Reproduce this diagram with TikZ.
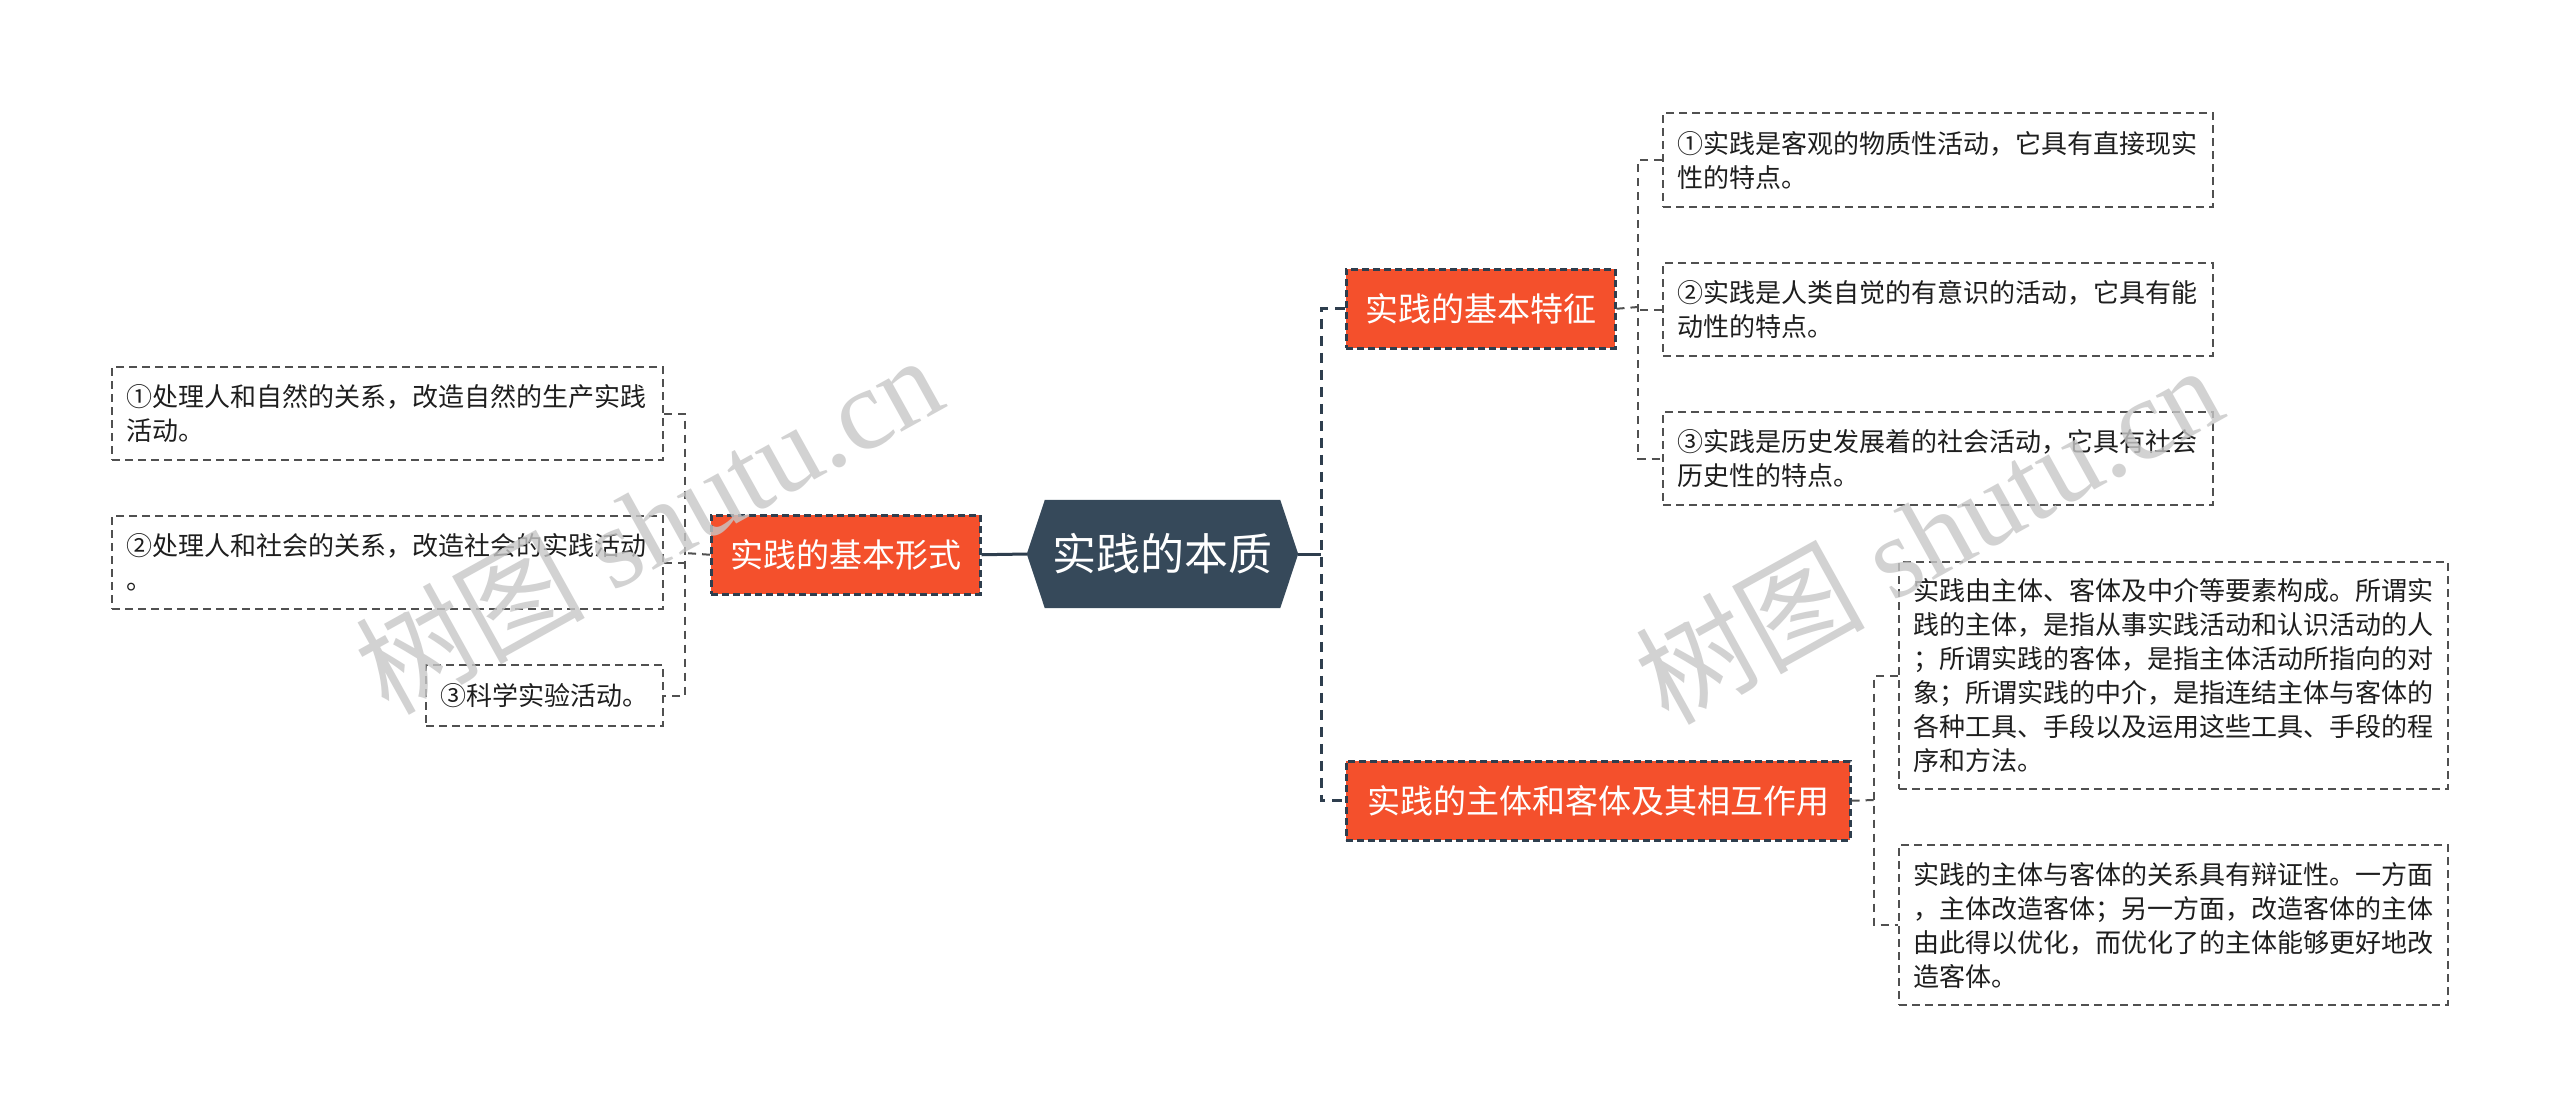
\documentclass[tikz,border=0pt]{standalone}
\usepackage{fontspec}
\setmainfont{Noto Sans CJK SC}
\newfontfamily\wmlatin{Liberation Serif}
\usetikzlibrary{backgrounds}
\definecolor{hexc}{HTML}{36495A}
\definecolor{branchc}{HTML}{F4502C}
\definecolor{darkline}{HTML}{2E3E4E}
\definecolor{leafline}{HTML}{505050}
\definecolor{textc}{HTML}{1E1E1E}
\begin{document}
\begin{tikzpicture}[x=1pt,y=-1pt,
  leaf/.style={draw=leafline, line width=2pt, dash pattern=on 8pt off 5pt, fill=white,
    align=left, inner xsep=14pt, inner ysep=0pt, anchor=north west,
    font=\fontsize{26}{34}\selectfont, text=textc},
  branchbox/.style={fill=branchc, draw=darkline, line width=2.5pt, dash pattern=on 7pt off 4pt,
    text=white, font=\fontsize{33}{40}\selectfont, minimum height=79pt, inner sep=0pt, anchor=north west},
  trunk/.style={draw=darkline, line width=3pt},
  trunkdash/.style={draw=darkline, line width=3pt, dash pattern=on 10pt off 7pt},
  leafconn/.style={draw=leafline, line width=2pt, dash pattern=on 8pt off 6pt},
  wm/.style={text=black!22, opacity=0.8, rotate=29, font=\fontsize{115}{115}\selectfont}
]
\useasboundingbox (0,0) rectangle (2560,1117);

% central node
\node[minimum width=271pt, minimum height=108pt, inner sep=0pt, text=white,
  font=\fontsize{44}{50}\selectfont] (hex) at (1162.5,554) {实践的本质};
\begin{pgfonlayer}{background}
\fill[white] (0,0) rectangle (2560,1117);
\fill[hexc] (hex.west) -- ([xshift=18pt]hex.north west) -- ([xshift=-18pt]hex.north east)
  -- (hex.east) -- ([xshift=-18pt]hex.south east) -- ([xshift=18pt]hex.south west) -- cycle;
\end{pgfonlayer}

% branches
\node[branchbox, minimum width=269pt] (B0) at (710,514) {实践的基本形式};
\node[branchbox, minimum width=269pt] (B1) at (1345,268) {实践的基本特征};
\node[branchbox, minimum width=504pt] (B2) at (1345,760) {实践的主体和客体及其相互作用};

% left leaves
\node[leaf, minimum width=551pt, minimum height=93pt, text width=523pt] (L1) at (111,366)
  {①处理人和自然的关系，改造自然的生产实践\\活动。};
\node[leaf, minimum width=551pt, minimum height=93pt, text width=523pt] (L2) at (111,515)
  {②处理人和社会的关系，改造社会的实践活动\\。};
\node[leaf, minimum width=237pt, minimum height=61pt, text width=209pt] (L3) at (425,664)
  {③科学实验活动。};

% right leaves of B1
\node[leaf, minimum width=550pt, minimum height=94pt, text width=522pt] (R1) at (1662,112)
  {①实践是客观的物质性活动，它具有直接现实\\性的特点。};
\node[leaf, minimum width=550pt, minimum height=93pt, text width=522pt] (R2) at (1662,262)
  {②实践是人类自觉的有意识的活动，它具有能\\动性的特点。};
\node[leaf, minimum width=550pt, minimum height=93pt, text width=522pt] (R3) at (1662,411)
  {③实践是历史发展着的社会活动，它具有社会\\历史性的特点。};

% right leaves of B2
\node[leaf, minimum width=549pt, minimum height=227pt, text width=521pt] (S1) at (1898,561)
  {实践由主体、客体及中介等要素构成。所谓实\\践的主体，是指从事实践活动和认识活动的人\\；所谓实践的客体，是指主体活动所指向的对\\象；所谓实践的中介，是指连结主体与客体的\\各种工具、手段以及运用这些工具、手段的程\\序和方法。};
\node[leaf, minimum width=549pt, minimum height=160pt, text width=521pt] (S2) at (1898,844)
  {实践的主体与客体的关系具有辩证性。一方面\\，主体改造客体；另一方面，改造客体的主体\\由此得以优化，而优化了的主体能够更好地改\\造客体。};

% junctions
\coordinate (rj) at (1321,554);
\coordinate (lj) at (685,553);
\coordinate (r1j) at (1638,307);
\coordinate (r2j) at (1874,800);

% trunk connectors
\draw[trunk] (hex.west) -- (B0.east);
\draw[trunk] (hex.east) -- (rj);
\draw[trunkdash] (B1.west) -| (rj) |- (B2.west);

% left leaves connectors
\draw[leafconn] (B0.west) -- (lj);
\draw[leafconn] (L1.east) -| (lj) |- (L3.east);
\draw[leafconn] (L2.east) -- (L2.east -| lj);

% B1 leaves
\draw[leafconn] (B1.east) -- (r1j);
\draw[leafconn] (R1.west) -| (r1j) |- (R3.west);
\draw[leafconn] (R2.west) -- (R2.west -| r1j);

% B2 leaves
\draw[leafconn] (B2.east) -- (r2j);
\draw[leafconn] (S1.west) -| (r2j) |- (S2.west);

% watermarks
\node[wm] (wm1) at (648,523) {树图 {\wmlatin shutu.cn}};
\node[wm] (wm2) at (1928,533) {树图 {\wmlatin shutu.cn}};
\end{tikzpicture}
\end{document}
